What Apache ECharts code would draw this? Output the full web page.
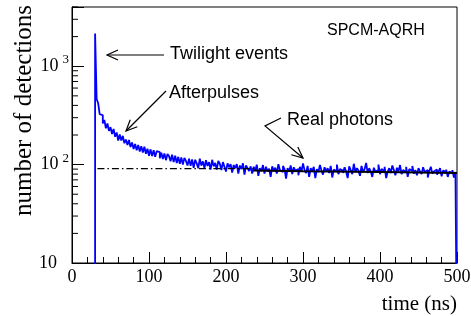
<!DOCTYPE html>
<html><head><meta charset="utf-8">
<script src="https://cdn.jsdelivr.net/npm/echarts@6/dist/echarts.min.js"></script>
<style>html,body{margin:0;padding:0;background:#fff}#c{width:471px;height:316px}</style>
</head><body><div id="c"></div>
<script>
// ---- data ----
const binStart = 30;      // ns, left edge of the "twilight" spike bin
const binWidth = 2;       // ns
const spikeCount = 2150;  // twilight-events spike
// counts per 2 ns bin, starting at 32 ns
const counts = [
  465, 420, 325, 318, 262, 285, 234, 262, 220, 240,
  205, 230, 192, 212, 176, 202, 176, 196, 165, 180,
  158, 178, 151, 168, 144, 162, 140, 158, 136, 154,
  133, 152, 129, 145, 123, 143, 122, 140, 120, 137,
  134, 116, 132, 114, 130, 111, 128, 122, 108, 126,
  106, 123, 104, 120, 102, 118, 100, 117, 109, 98,
  115, 97, 113, 93, 112, 103, 92, 115, 98, 108,
  92, 111, 97, 106, 89, 112, 96, 104, 89, 109,
  102, 88, 106, 95, 85, 103, 94, 101, 83, 99,
  92, 101, 81, 98, 90, 103, 79, 98, 92, 86,
  96, 81, 95, 87, 100, 77, 92, 86, 99, 81,
  95, 85, 91, 75, 96, 86, 93, 81, 101, 88,
  84, 97, 90, 72, 92, 85, 98, 80, 94, 87,
  90, 78, 95, 85, 103, 88, 82, 97, 75, 92,
  86, 95, 73, 90, 84, 99, 87, 79, 94, 85,
  92, 82, 97, 74, 89, 85, 100, 80, 90, 87,
  82, 94, 85, 73, 96, 88, 80, 102, 84, 92,
  87, 77, 97, 84, 90, 104, 82, 92, 85, 75,
  93, 85, 88, 100, 80, 90, 86, 95, 73, 85,
  92, 82, 98, 88, 78, 93, 85, 99, 80, 88,
  84, 95, 75, 90, 86, 97, 81, 88, 78, 92,
  85, 80, 94, 84, 88, 74, 86, 95, 81, 85,
  89, 79, 85, 92, 76, 87, 84, 89, 75, 85,
  82, 88, 74, 84
];
const histEnd = 500;       // ns
const floorValue = 1;      // below the axis minimum (empty bins)
const flatLevel = [[33, 91], [240, 91]];                       // dash-dotted level
const fitLine = [[235, 87], [300, 85.5], [400, 84], [500, 82]]; // solid fit
const xMin = 0, xMax = 500, xStep = 100;
const yMin = 10, yMax = 4000;
const yMinorTicks = [20, 30, 40, 50, 60, 70, 80, 90, 200, 300, 400, 500, 600, 700, 800, 900, 2000, 3000, 4000];
const xTitle = 'time (ns)';
const yTitle = 'number of detections';
const notes = { twilight: 'Twilight events', after: 'Afterpulses', real: 'Real photons', model: 'SPCM-AQRH' };

// ---- build histogram outline ----
const hist = [[binStart, floorValue], [binStart, spikeCount], [binStart + binWidth, spikeCount]];
counts.forEach((c, i) => {
  const l = binStart + binWidth * (i + 1);
  hist.push([l, c], [l + binWidth, c]);
});
hist.push([histEnd, floorValue]);

function arrowHead(tip, from, len, half) {
  const dx = from[0] - tip[0], dy = from[1] - tip[1];
  const d = Math.hypot(dx, dy), ux = dx / d, uy = dy / d;
  return [[tip[0] + ux * len - uy * half, tip[1] + uy * len + ux * half], tip,
          [tip[0] + ux * len + uy * half, tip[1] + uy * len - ux * half]];
}
function arrow(points) {
  const tip = points[points.length - 1], prev = points[points.length - 2];
  return [
    { type: 'polyline', shape: { points }, style: { stroke: '#000', lineWidth: 1.2, fill: null }, z: 10 },
    { type: 'polyline', shape: { points: arrowHead(tip, prev, 11, 5) }, style: { stroke: '#000', lineWidth: 1.2, fill: null }, z: 10 }
  ];
}
function note(text, x, y, size) {
  return { type: 'text', x: x, y: y, z: 10,
    style: { text, font: size + 'px "Liberation Sans", Arial, sans-serif', fill: '#000',
             align: 'left', verticalAlign: 'middle', textAlign: 'left', textVerticalAlign: 'middle' } };
}

const serif = '"Liberation Serif", "DejaVu Serif", serif';
const chart = echarts.init(document.getElementById('c'), null, { renderer: 'canvas' });
chart.setOption({
  animation: false,
  backgroundColor: '#fff',
  grid: { left: 72, right: 14, top: 7, bottom: 53, show: true, borderColor: '#000', borderWidth: 1,
          backgroundColor: 'transparent', containLabel: false, outerBoundsMode: 'none' },
  xAxis: {
    type: 'value', min: xMin, max: xMax, interval: xStep,
    axisLine: { show: true, lineStyle: { color: '#000', width: 1 } },
    axisTick: { show: true, inside: true, length: 11, lineStyle: { color: '#000' } },
    minorTick: { show: true, splitNumber: 5, length: 6, lineStyle: { color: '#000' } },
    axisLabel: { fontFamily: serif, fontSize: 18, color: '#000', margin: 5 },
    splitLine: { show: false }
  },
  yAxis: {
    type: 'log', logBase: 10, min: yMin, max: yMax,
    axisLine: { show: true, lineStyle: { color: '#000', width: 1 } },
    axisTick: { show: true, inside: true, length: 12, lineStyle: { color: '#000' } },
    splitLine: { show: false },
    axisLabel: {
      margin: 3, color: '#000',
      formatter: function (v) {
        const e = Math.round(Math.log10(v));
        if (Math.abs(v - Math.pow(10, e)) > 1e-6 * v) return '';
        if (e === 1) return '{b|10}{p| }';
        return '{b|10}{s|' + e + '}';
      },
      rich: {
        b: { fontFamily: serif, fontSize: 18, lineHeight: 26, color: '#000' },
        s: { fontFamily: serif, fontSize: 13, lineHeight: 12, verticalAlign: 'top', color: '#000', padding: [0, 0, 0, 4] },
        p: { fontFamily: serif, fontSize: 13, width: 12 }
      }
    }
  },
  series: [
    { type: 'line', data: hist, symbol: 'none', clip: true, z: 2,
      lineStyle: { color: '#0000ff', width: 1.8 } },
    { type: 'line', data: flatLevel, symbol: 'none', z: 3,
      lineStyle: { color: '#000', width: 1.2, type: [7, 3, 1.5, 3] } },
    { type: 'line', data: fitLine, symbol: 'none', smooth: false, z: 4,
      lineStyle: { color: '#000', width: 2 } },
    { type: 'custom', z: 5, silent: true,
      data: yMinorTicks.map(v => [xMin, v]),
      renderItem: function (params, api) {
        const p = api.coord([api.value(0), api.value(1)]);
        return { type: 'line', shape: { x1: p[0], y1: p[1], x2: p[0] + 6, y2: p[1] }, style: { stroke: '#000', lineWidth: 1 } };
      } }
  ],
  graphic: [
    { type: 'text', x: 457, y: 304, z: 10,
      style: { text: xTitle, font: '21px ' + serif, fill: '#000', align: 'right', verticalAlign: 'middle', textAlign: 'right', textVerticalAlign: 'middle' } },
    { type: 'text', x: 37, y: 5, rotation: Math.PI / 2, z: 10,
      style: { text: yTitle, font: '25px ' + serif, fill: '#000', align: 'right', verticalAlign: 'bottom', textAlign: 'right', textVerticalAlign: 'bottom' } },
    note(notes.model, 327, 31, 16),
    note(notes.twilight, 170, 54, 18),
    note(notes.after, 169, 93.5, 18),
    note(notes.real, 287, 120.5, 18),
    ...arrow([[164, 55], [107, 55]]),
    ...arrow([[166, 91], [126, 131]]),
    ...arrow([[281, 118], [265, 126], [303, 158]])
  ]
});
</script>
</body></html>
